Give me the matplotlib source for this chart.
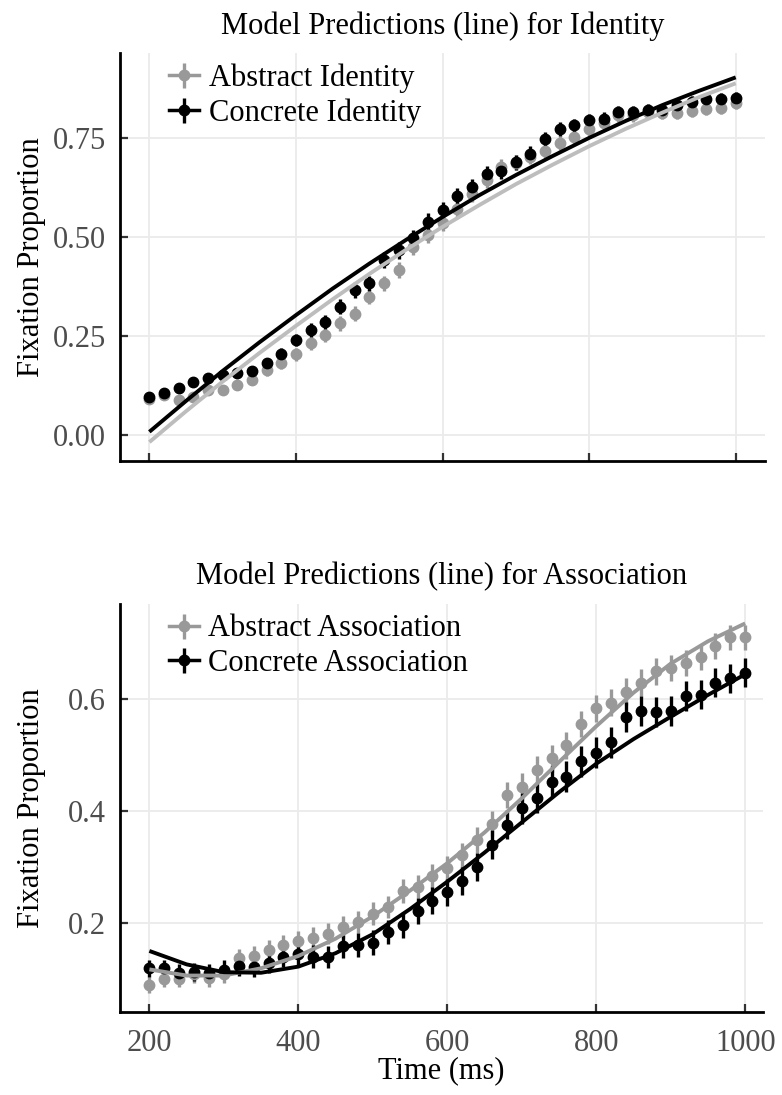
import numpy as np
import matplotlib
matplotlib.use("Agg")
import matplotlib.pyplot as plt
from matplotlib.lines import Line2D
from matplotlib.legend_handler import HandlerTuple

plt.rcParams['font.family'] = ['Liberation Serif', 'DejaVu Serif']

# time bins (ms) for the observed points
tiempo = list(range(200, 1001, 20))
# time grid (ms) for the model curves
tiempo_modelo = list(range(200, 1001, 50))

# ---- Identity ----
abstract_id = [0.092, 0.100, 0.088, 0.097, 0.114, 0.115, 0.126, 0.139, 0.164, 0.183,
               0.204, 0.232, 0.253, 0.282, 0.307, 0.349, 0.383, 0.417, 0.476, 0.505,
               0.535, 0.572, 0.610, 0.644, 0.678, 0.688, 0.703, 0.717, 0.739, 0.753,
               0.774, 0.789, 0.808, 0.808, 0.816, 0.814, 0.814, 0.820, 0.825, 0.826,
               0.838]
concrete_id = [0.097, 0.107, 0.118, 0.135, 0.143, 0.152, 0.157, 0.162, 0.181, 0.205,
               0.240, 0.265, 0.286, 0.324, 0.366, 0.383, 0.442, 0.467, 0.497, 0.539,
               0.568, 0.604, 0.627, 0.659, 0.667, 0.690, 0.711, 0.749, 0.773, 0.783,
               0.795, 0.800, 0.816, 0.816, 0.821, 0.821, 0.833, 0.842, 0.850, 0.850,
               0.852]
abstract_id_err = [0.010, 0.010, 0.010, 0.011, 0.011, 0.012, 0.012, 0.013, 0.014, 0.015,
                   0.016, 0.017, 0.017, 0.018, 0.018, 0.019, 0.019, 0.020, 0.020, 0.020,
                   0.020, 0.020, 0.020, 0.020, 0.020, 0.019, 0.019, 0.019, 0.018, 0.018,
                   0.018, 0.017, 0.017, 0.017, 0.016, 0.016, 0.016, 0.016, 0.015, 0.015,
                   0.015]
concrete_id_err = [0.010, 0.010, 0.011, 0.011, 0.012, 0.012, 0.013, 0.013, 0.014, 0.015,
                   0.016, 0.017, 0.018, 0.019, 0.020, 0.020, 0.021, 0.021, 0.021, 0.021,
                   0.021, 0.020, 0.020, 0.020, 0.020, 0.019, 0.019, 0.018, 0.018, 0.017,
                   0.017, 0.016, 0.016, 0.015, 0.015, 0.015, 0.015, 0.014, 0.014, 0.014,
                   0.014]
modelo_abstract_id = [-0.018, 0.060, 0.135, 0.207, 0.276, 0.343, 0.407, 0.468, 0.526,
                      0.581, 0.634, 0.683, 0.730, 0.774, 0.815, 0.854, 0.889]
modelo_concrete_id = [0.008, 0.086, 0.162, 0.234, 0.303, 0.370, 0.433, 0.493, 0.551,
                      0.606, 0.657, 0.705, 0.751, 0.794, 0.834, 0.870, 0.904]

# ---- Association ----
abstract_as = [0.089, 0.100, 0.100, 0.108, 0.101, 0.108, 0.137, 0.141, 0.152, 0.161,
               0.167, 0.174, 0.181, 0.193, 0.202, 0.217, 0.229, 0.257, 0.265, 0.284,
               0.298, 0.321, 0.348, 0.378, 0.429, 0.444, 0.474, 0.495, 0.518, 0.556,
               0.584, 0.594, 0.614, 0.630, 0.650, 0.656, 0.665, 0.676, 0.696, 0.711,
               0.711]
concrete_as = [0.119, 0.119, 0.111, 0.113, 0.111, 0.116, 0.123, 0.121, 0.129, 0.140,
               0.144, 0.140, 0.139, 0.158, 0.161, 0.165, 0.184, 0.197, 0.222, 0.240,
               0.255, 0.276, 0.301, 0.340, 0.376, 0.405, 0.424, 0.453, 0.462, 0.489,
               0.505, 0.523, 0.568, 0.579, 0.577, 0.580, 0.606, 0.608, 0.630, 0.638,
               0.648]
abstract_as_err = [0.014, 0.014, 0.014, 0.015, 0.015, 0.016, 0.016, 0.017, 0.017, 0.018,
                   0.018, 0.018, 0.019, 0.019, 0.019, 0.020, 0.020, 0.021, 0.021, 0.022,
                   0.022, 0.022, 0.023, 0.023, 0.024, 0.024, 0.024, 0.024, 0.024, 0.024,
                   0.024, 0.024, 0.024, 0.024, 0.024, 0.023, 0.023, 0.023, 0.023, 0.022,
                   0.022]
concrete_as_err = [0.015, 0.015, 0.015, 0.016, 0.016, 0.017, 0.017, 0.018, 0.018, 0.019,
                   0.019, 0.020, 0.020, 0.021, 0.021, 0.022, 0.022, 0.023, 0.023, 0.024,
                   0.024, 0.025, 0.025, 0.026, 0.026, 0.027, 0.027, 0.027, 0.027, 0.027,
                   0.027, 0.027, 0.027, 0.027, 0.027, 0.027, 0.027, 0.026, 0.026, 0.026,
                   0.026]
modelo_abstract_as = [0.117, 0.106, 0.106, 0.119, 0.141, 0.172, 0.212, 0.258, 0.307,
                      0.362, 0.423, 0.488, 0.552, 0.612, 0.664, 0.704, 0.736]
modelo_concrete_as = [0.150, 0.126, 0.112, 0.111, 0.122, 0.146, 0.180, 0.225, 0.274,
                      0.326, 0.380, 0.434, 0.485, 0.529, 0.569, 0.608, 0.645]

GRIS_PUNTO = "#999999"
NEGRO = "#000000"
TAM = 22


def panel(ax, titulo, datos, errores, modelos, colores_linea, etiquetas,
          yticks, yfmt, xlim, ylim, xlabels=True):
	colores = [GRIS_PUNTO, NEGRO]
	for y, e, c in zip(datos, errores, colores):
		ax.errorbar(tiempo, y, yerr=e, fmt='o', color=c, ms=7.5, elinewidth=2.4,
					capsize=0, zorder=3)
	for y, c in zip(modelos, colores_linea):
		ax.plot(tiempo_modelo, y, color=c, lw=2.8, zorder=4, solid_capstyle='butt')
	ax.set_xlim(*xlim)
	ax.set_ylim(*ylim)
	ax.set_xticks([200, 400, 600, 800, 1000])
	ax.set_yticks(yticks)
	ax.set_yticklabels([yfmt % v for v in yticks])
	if not xlabels:
		ax.set_xticklabels([])
	ax.grid(True, color="#ebebeb", lw=1.3, zorder=0)
	ax.set_axisbelow(True)
	for s in ["top", "right"]:
		ax.spines[s].set_visible(False)
	for s in ["left", "bottom"]:
		ax.spines[s].set_linewidth(2.0)
	ax.tick_params(direction='in', length=6, width=1.6, color="#333333",
				   labelsize=TAM, labelcolor="#4d4d4d")
	ax.tick_params(axis='y', pad=10)
	ax.tick_params(axis='x', pad=12)
	ax.set_title(titulo, fontsize=TAM, pad=14)
	ax.set_ylabel("Fixation Proportion", fontsize=TAM)
	# same label position in both panels
	ax.yaxis.set_label_coords(-0.115, 0.5)
	handles = []
	for c in colores:
		handles.append((Line2D([], [], color=c, lw=2.5, marker='o', ms=7.5),
						Line2D([], [], color=c, ls='none', marker='|', ms=18, mew=2.4)))
	ax.legend(handles, etiquetas, handler_map={tuple: HandlerTuple(ndivide=1, pad=0)},
			  loc='upper left', bbox_to_anchor=(0.052, 1.012), frameon=False,
			  fontsize=TAM, handlelength=1.0, handletextpad=0.3, labelspacing=0.18,
			  borderaxespad=0.1)


fig = plt.figure(figsize=(7.82, 10.95), dpi=100)
ax1 = fig.add_axes([0.1535, 0.579, 0.8248, 0.3726])
ax2 = fig.add_axes([0.1535, 0.0758, 0.8223, 0.3726])

panel(ax1, "Model Predictions (line) for Identity",
	  [abstract_id, concrete_id], [abstract_id_err, concrete_id_err],
	  [modelo_abstract_id, modelo_concrete_id], ["#bdbdbd", NEGRO],
	  ["Abstract Identity", "Concrete Identity"],
	  [0.0, 0.25, 0.5, 0.75], "%.2f", (160, 1040), (-0.0657, 0.9656), xlabels=False)

panel(ax2, "Model Predictions (line) for Association",
	  [abstract_as, concrete_as], [abstract_as_err, concrete_as_err],
	  [modelo_abstract_as, modelo_concrete_as], ["#999999", NEGRO],
	  ["Abstract Association", "Concrete Association"],
	  [0.2, 0.4, 0.6], "%.1f", (160.6, 1024), (0.0408, 0.7707))
ax2.set_xlabel("Time (ms)", fontsize=TAM, labelpad=-1)

fig.savefig("out.png", dpi=100)
